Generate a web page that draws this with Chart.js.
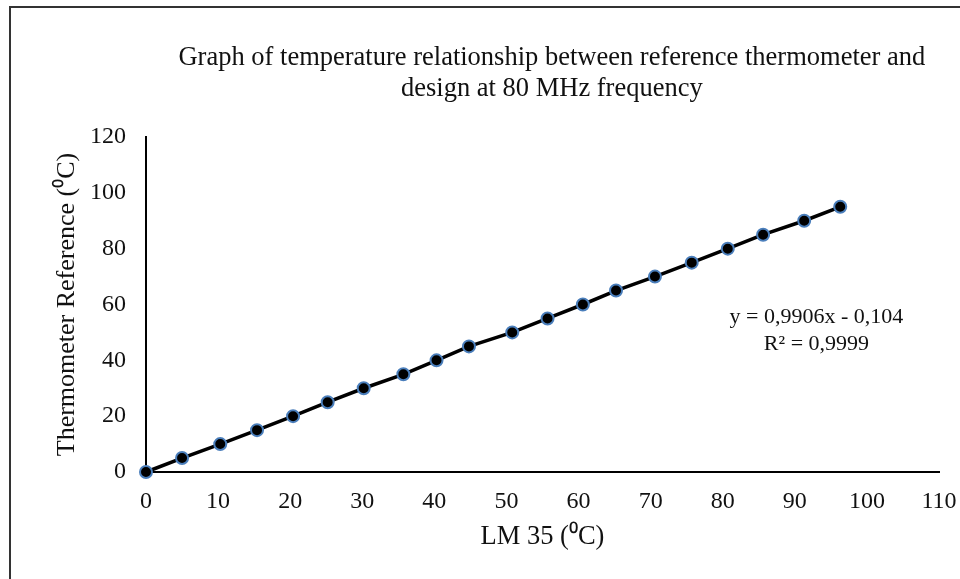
<!DOCTYPE html>
<html>
<head>
<meta charset="utf-8">
<script src="https://cdn.jsdelivr.net/npm/chart.js@4.4.1/dist/chart.umd.min.js"></script>
<style>
  html, body { margin: 0; padding: 0; background: #fff; }
  #wrap { position: relative; width: 960px; height: 579px; overflow: hidden; }
  #frame { position: absolute; left: 9px; top: 6px; width: 1000px; height: 700px;
           border-left: 2px solid #333; border-top: 2px solid #333; pointer-events: none; }
  canvas { position: absolute; left: 0; top: 0; }
</style>
</head>
<body>
<div id="wrap">
  <canvas id="c" width="960" height="579"></canvas>
  <div id="frame"></div>
</div>
<script>
// ---- data ----
const lm35 = [0, 5.0, 10.3, 15.4, 20.4, 25.2, 30.2, 35.7, 40.3, 44.8, 50.8, 55.7, 60.6, 65.2, 70.6, 75.7, 80.7, 85.6, 91.3, 96.3];
const thermoRef = [0, 5, 10, 15, 20, 25, 30, 35, 40, 45, 50, 55, 60, 65, 70, 75, 80, 85, 90, 95];
const titleLines = ["Graph of temperature relationship between reference thermometer and", "design at 80 MHz frequency"];
const xTitle = "LM 35 (\u2070C)";
const yTitle = "Thermometer Reference (\u2070C)";
const equationLines = ["y = 0,9906x - 0,104", "R\u00B2 = 0,9999"];
const equationAnchor = [93.0, 55.6]; // data coords of first line

const points = lm35.map((x, i) => ({ x: x, y: thermoRef[i] }));
const FONT = "'Liberation Serif', 'Times New Roman', serif";

const textPlugin = {
  id: 'texts',
  afterDraw(chart) {
    const { ctx, scales } = chart;
    ctx.save();
    ctx.fillStyle = '#111';
    ctx.textAlign = 'center';
    ctx.textBaseline = 'middle';
    // title (centred a little right of the plot centre, as in the reference)
    ctx.font = "26.5px " + FONT;
    const tx = scales.x.getPixelForValue(56.3);
    titleLines.forEach((t, i) => ctx.fillText(t, tx, 58 + i * 31));
    // trendline equation
    ctx.font = "22px " + FONT;
    const px = scales.x.getPixelForValue(equationAnchor[0]);
    const py = scales.y.getPixelForValue(equationAnchor[1]);
    equationLines.forEach((t, i) => ctx.fillText(t, px, py + i * 27));
    ctx.restore();
  }
};

new Chart(document.getElementById('c'), {
  type: 'scatter',
  data: {
    datasets: [{
      data: points,
      showLine: true,
      clip: false,
      borderColor: '#000',
      borderWidth: 3.5,
      pointRadius: 6,
      pointHoverRadius: 6,
      pointBackgroundColor: '#000',
      pointBorderColor: '#4a7ebb',
      pointBorderWidth: 2
    }]
  },
  options: {
    responsive: false,
    animation: false,
    events: [],
    layout: { padding: { left: 0, right: 21, top: 137, bottom: 0 } },
    plugins: {
      legend: { display: false },
      tooltip: { enabled: false },
      title: { display: false }
    },
    scales: {
      x: {
        type: 'linear',
        min: 0, max: 110,
        ticks: { stepSize: 10, color: '#111', padding: 15, font: { family: FONT, size: 24 } },
        grid: { display: false, drawTicks: false },
        border: { display: true, color: '#000', width: 2 },
        title: { display: true, text: xTitle, color: '#111', font: { family: FONT, size: 26.5 }, padding: { top: 0, bottom: 26 } },
        afterFit(scale) { scale.height = 107; scale.paddingLeft = 0; scale.paddingRight = 0; }
      },
      y: {
        type: 'linear',
        min: 0, max: 120,
        ticks: { stepSize: 20, color: '#111', padding: 20, font: { family: FONT, size: 24 } },
        grid: { display: false, drawTicks: false },
        border: { display: true, color: '#000', width: 2 },
        title: { display: true, text: yTitle, color: '#111', font: { family: FONT, size: 26 }, padding: { top: 52, bottom: 0 } },
        afterFit(scale) { scale.width = 146; scale.paddingTop = 0; scale.paddingBottom = 0; }
      }
    }
  },
  plugins: [textPlugin]
});
</script>
</body>
</html>
